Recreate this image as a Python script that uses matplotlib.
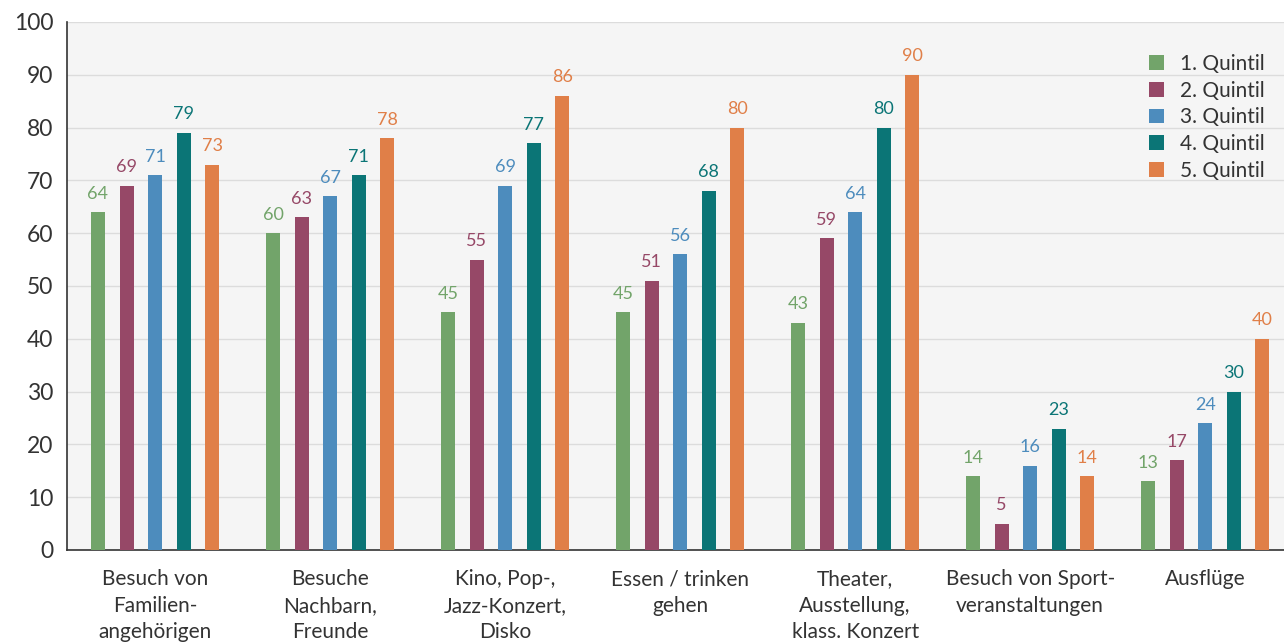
import numpy as np
import matplotlib.pyplot as plt

plt.rcParams['font.family'] = ['Lato', 'DejaVu Sans']

categories = ["Besuch von\nFamilien-\nangehörigen", "Besuche\nNachbarn,\nFreunde",
              "Kino, Pop-,\nJazz-Konzert,\nDisko", "Essen / trinken\ngehen",
              "Theater,\nAusstellung,\nklass. Konzert", "Besuch von Sport-\nveranstaltungen",
              "Ausflüge"]
series_names = ["1. Quintil", "2. Quintil", "3. Quintil", "4. Quintil", "5. Quintil"]
q1 = [64, 60, 45, 45, 43, 14, 13]
q2 = [69, 63, 55, 51, 59, 5, 17]
q3 = [71, 67, 69, 56, 64, 16, 24]
q4 = [79, 71, 77, 68, 80, 23, 30]
q5 = [73, 78, 86, 80, 90, 14, 40]
colors = ["#72a46a", "#964867", "#4d8cbd", "#0b7576", "#e07f48"]

fig = plt.figure(figsize=(12.84, 6.42), dpi=100)
fig.patch.set_facecolor("white")
ax = fig.add_axes([67/1284, 1 - 550/642, 1217/1284, 528/642])
ax.set_facecolor("#f5f5f5")

x = np.arange(len(categories))
step = 0.163
width = 0.08
for i, (vals, name, c) in enumerate(zip([q1, q2, q3, q4, q5], series_names, colors)):
    pos = x + (i - 2) * step
    ax.bar(pos, vals, width=width, color=c, label=name, zorder=3)
    for p, v in zip(pos, vals):
        ax.text(p, v + 2.0, str(v), ha="center", va="bottom", color=c, fontsize=13)

ax.set_xlim(-0.503, 6.45)
ax.set_ylim(0, 100)
ax.set_yticks(range(0, 101, 10))
ax.grid(axis="y", color="#dcdcdc", linewidth=1, zorder=0)
ax.set_xticks(x)
ax.set_xticklabels(categories, fontsize=15, color="#333333", linespacing=1.4)
ax.tick_params(axis="both", length=0, colors="#333333")
ax.tick_params(axis="x", pad=14, labelsize=15)
ax.tick_params(axis="y", pad=10, labelsize=16.5)
for s in ["top", "right"]:
    ax.spines[s].set_visible(False)
for s in ["left", "bottom"]:
    ax.spines[s].set_color("#333333")
    ax.spines[s].set_linewidth(1.2)

leg = ax.legend(loc="upper right", bbox_to_anchor=(1.0, 0.975), frameon=False, fontsize=15,
                handlelength=0.7, handleheight=0.7, handletextpad=0.8, labelspacing=0.32)
for t in leg.get_texts():
    t.set_color("#333333")

fig.savefig("out.png", dpi=100)
